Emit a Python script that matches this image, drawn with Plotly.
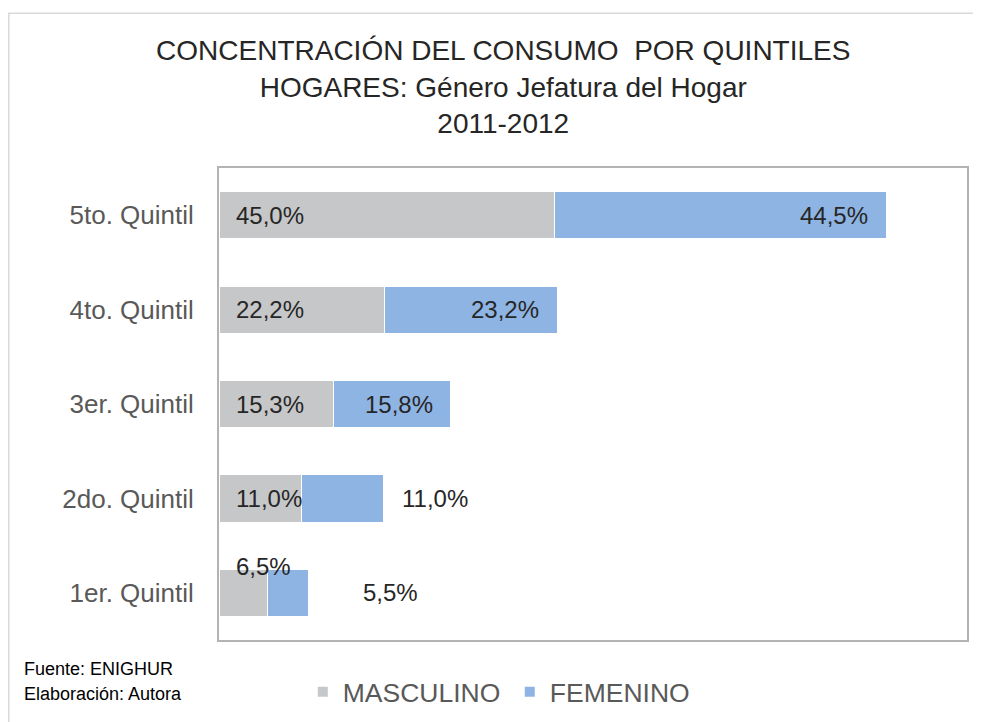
import plotly.graph_objects as go

categories = ["1er. Quintil", "2do. Quintil", "3er. Quintil", "4to. Quintil", "5to. Quintil"]
masculino = [6.5, 11.0, 15.3, 22.2, 45.0]
femenino = [5.5, 11.0, 15.8, 23.2, 44.5]
mas_labels = ["6,5%", "11,0%", "15,3%", "22,2%", "45,0%"]
fem_labels = ["5,5%", "11,0%", "15,8%", "23,2%", "44,5%"]

FONT = "Liberation Sans, Arial, sans-serif"
GRAY = "#C6C7C8"
BLUE = "#8EB4E3"
TXT = "#262626"

fig = go.Figure()
fig.add_trace(go.Bar(y=categories, x=masculino, orientation="h", name="MASCULINO",
                     marker=dict(color=GRAY, line=dict(color="white", width=1))))
fig.add_trace(go.Bar(y=categories, x=femenino, orientation="h", name="FEMENINO",
                     marker=dict(color=BLUE, line=dict(color="white", width=1))))

ann = []
for i, (c, m, lab) in enumerate(zip(categories, masculino, mas_labels)):
    if i == 0:
        ann.append(dict(x=2.0, y=i, yshift=26, text=lab, xanchor="left"))
    else:
        ann.append(dict(x=2.0, y=i, text=lab, xanchor="left"))
for i, (c, m, f, lab) in enumerate(zip(categories, masculino, femenino, fem_labels)):
    end = m + f
    if i == 0:
        ann.append(dict(x=end + 7.0, y=i, text=lab, xanchor="left"))
    elif i == 1:
        ann.append(dict(x=end + 2.3, y=i, text=lab, xanchor="left"))
    else:
        ann.append(dict(x=end - 2.2, y=i, text=lab, xanchor="right"))
for a in ann:
    a.update(xref="x", yref="y", showarrow=False, font=dict(family=FONT, size=24, color=TXT))

for txt, yy in [("Fuente: ENIGHUR", -0.036), ("Elaboración: Autora", -0.089)]:
    ann.append(dict(xref="paper", yref="paper", x=-0.263, y=yy, xanchor="left", yanchor="top",
                    align="left", showarrow=False, text=txt,
                    font=dict(family=FONT, size=18, color="#000000")))

fig.update_layout(
    width=973, height=714,
    margin=dict(l=211, r=14, t=160, b=82),
    paper_bgcolor="white", plot_bgcolor="white",
    barmode="stack", bargap=0.5,
    title=dict(text="CONCENTRACIÓN DEL CONSUMO  POR QUINTILES<br>HOGARES: Género Jefatura del Hogar<br>2011-2012",
               x=0.509, xref="container", xanchor="center", y=0.927, yref="container", yanchor="top",
               font=dict(family=FONT, size=28, color=TXT)),
    xaxis=dict(range=[0, 100.3], showticklabels=False, showgrid=False, zeroline=False,
               showline=True, linecolor="#B3B3B3", linewidth=2, mirror=True, fixedrange=True),
    yaxis=dict(showgrid=False, zeroline=False, showline=True, linecolor="#B3B3B3", linewidth=2,
               mirror=True, ticks="", ticklabelstandoff=18,
               tickfont=dict(family=FONT, size=26, color="#595959")),
    legend=dict(orientation="h", x=0.112, xanchor="left", xref="paper",
                y=0.042, yanchor="middle", yref="container",
                font=dict(family=FONT, size=26.5, color="#595959"), itemsizing="constant",
                entrywidth=162, entrywidthmode="pixels",
                traceorder="normal"),
    annotations=ann,
    showlegend=True,
    shapes=[dict(type="rect", xref="paper", yref="paper", x0=-0.281, x1=1.05, y0=-0.3, y1=1.328,
                 line=dict(color="#D9D9D9", width=1.5), layer="below")],
)
fig.write_html("out.html")
